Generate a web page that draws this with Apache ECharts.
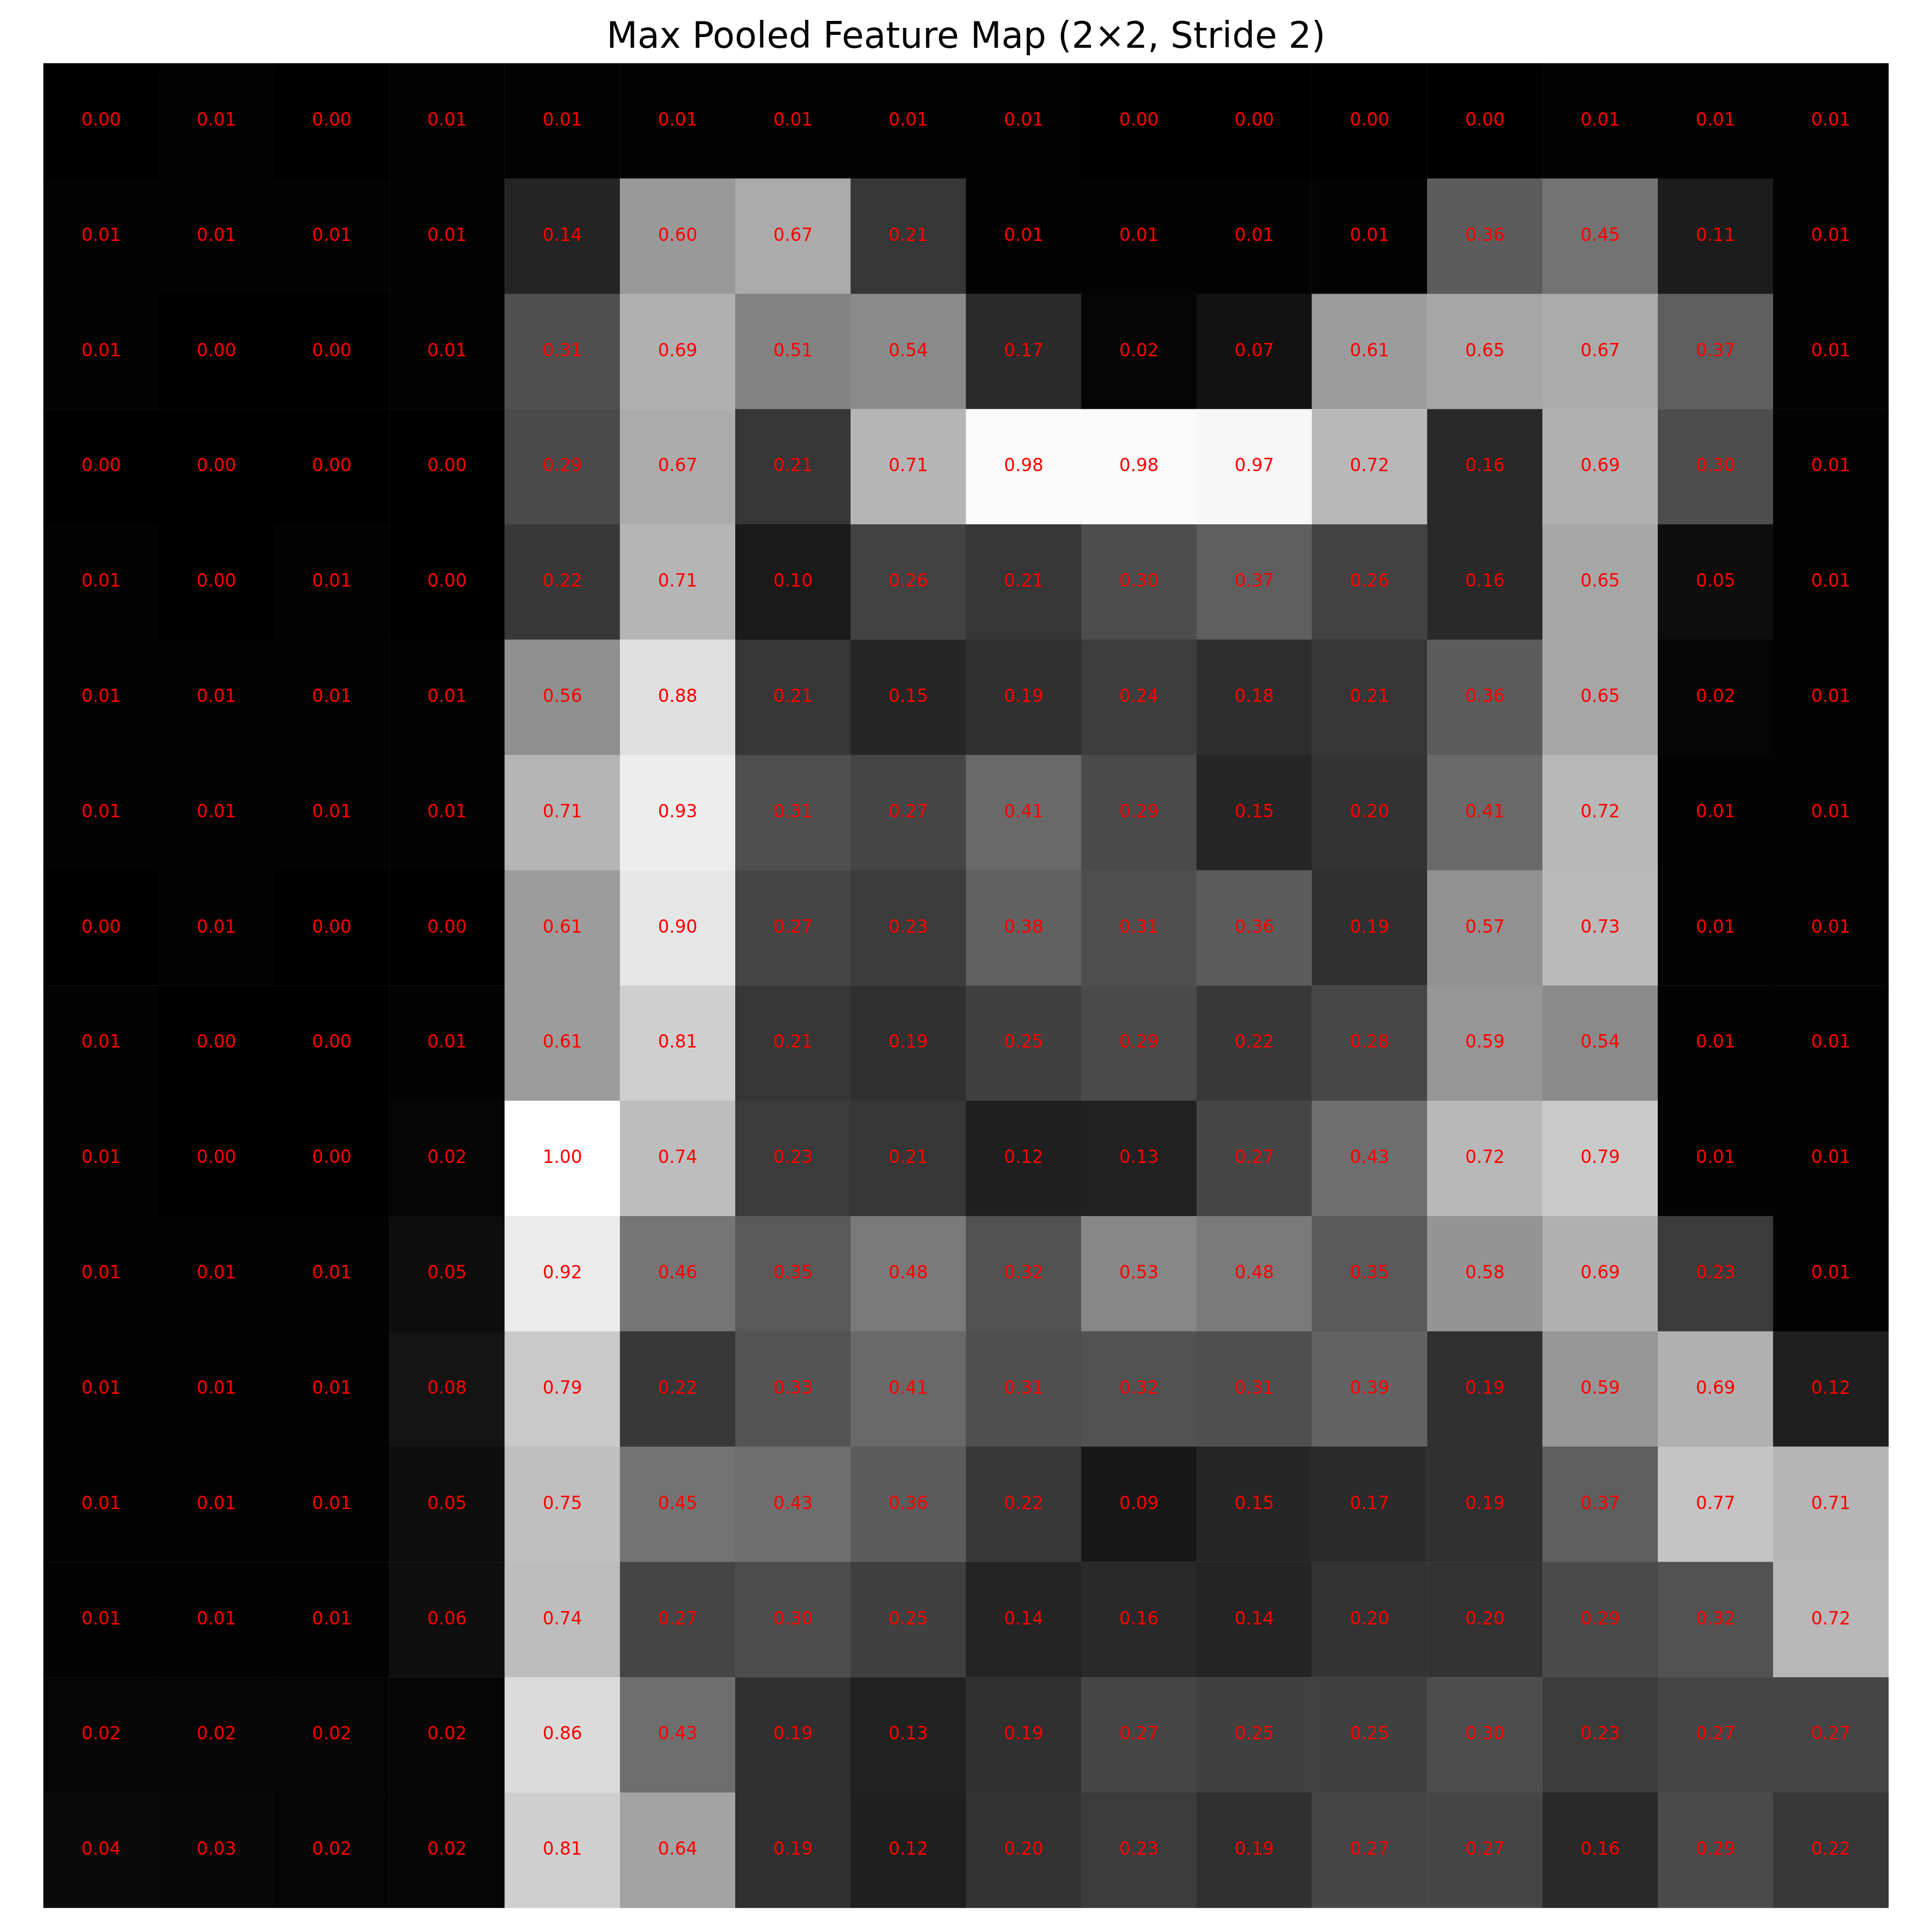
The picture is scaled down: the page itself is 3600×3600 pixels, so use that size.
<!DOCTYPE html>
<html>
<head>
<meta charset="utf-8">
<script src="https://cdn.jsdelivr.net/npm/echarts@6/dist/echarts.min.js"></script>
<style>html,body{margin:0;padding:0;background:#fff;}#chart{width:3600px;height:3600px;}</style>
</head>
<body>
<div id="chart"></div>
<script>
const titleText = "Max Pooled Feature Map (2\u00d72, Stride 2)";
const colLabels = ["0","1","2","3","4","5","6","7","8","9","10","11","12","13","14","15"];
const rowLabels = ["0","1","2","3","4","5","6","7","8","9","10","11","12","13","14","15"];
const row0  = [0.00,0.01,0.00,0.01,0.01,0.01,0.01,0.01,0.01,0.00,0.00,0.00,0.00,0.01,0.01,0.01];
const row1  = [0.01,0.01,0.01,0.01,0.14,0.60,0.67,0.21,0.01,0.01,0.01,0.01,0.36,0.45,0.11,0.01];
const row2  = [0.01,0.00,0.00,0.01,0.31,0.69,0.51,0.54,0.17,0.02,0.07,0.61,0.65,0.67,0.37,0.01];
const row3  = [0.00,0.00,0.00,0.00,0.29,0.67,0.21,0.71,0.98,0.98,0.97,0.72,0.16,0.69,0.30,0.01];
const row4  = [0.01,0.00,0.01,0.00,0.22,0.71,0.10,0.26,0.21,0.30,0.37,0.26,0.16,0.65,0.05,0.01];
const row5  = [0.01,0.01,0.01,0.01,0.56,0.88,0.21,0.15,0.19,0.24,0.18,0.21,0.36,0.65,0.02,0.01];
const row6  = [0.01,0.01,0.01,0.01,0.71,0.93,0.31,0.27,0.41,0.29,0.15,0.20,0.41,0.72,0.01,0.01];
const row7  = [0.00,0.01,0.00,0.00,0.61,0.90,0.27,0.23,0.38,0.31,0.36,0.19,0.57,0.73,0.01,0.01];
const row8  = [0.01,0.00,0.00,0.01,0.61,0.81,0.21,0.19,0.25,0.29,0.22,0.28,0.59,0.54,0.01,0.01];
const row9  = [0.01,0.00,0.00,0.02,1.00,0.74,0.23,0.21,0.12,0.13,0.27,0.43,0.72,0.79,0.01,0.01];
const row10 = [0.01,0.01,0.01,0.05,0.92,0.46,0.35,0.48,0.32,0.53,0.48,0.35,0.58,0.69,0.23,0.01];
const row11 = [0.01,0.01,0.01,0.08,0.79,0.22,0.33,0.41,0.31,0.32,0.31,0.39,0.19,0.59,0.69,0.12];
const row12 = [0.01,0.01,0.01,0.05,0.75,0.45,0.43,0.36,0.22,0.09,0.15,0.17,0.19,0.37,0.77,0.71];
const row13 = [0.01,0.01,0.01,0.06,0.74,0.27,0.30,0.25,0.14,0.16,0.14,0.20,0.20,0.29,0.32,0.72];
const row14 = [0.02,0.02,0.02,0.02,0.86,0.43,0.19,0.13,0.19,0.27,0.25,0.25,0.30,0.23,0.27,0.27];
const row15 = [0.04,0.03,0.02,0.02,0.81,0.64,0.19,0.12,0.20,0.23,0.19,0.27,0.27,0.16,0.29,0.22];
const rows = [row0,row1,row2,row3,row4,row5,row6,row7,row8,row9,row10,row11,row12,row13,row14,row15];

const data = [];
rows.forEach((r, y) => r.forEach((v, x) => data.push([x, y, v])));

const chart = echarts.init(document.getElementById('chart'), null, {renderer: 'canvas'});
chart.setOption({
  backgroundColor: '#ffffff',
  animation: false,
  title: {
    text: titleText,
    left: 'center',
    top: 38,
    padding: 0,
    textStyle: {fontFamily: 'DejaVu Sans', fontSize: 67, fontWeight: 'normal', color: '#000000'}
  },
  grid: {left: 81, top: 118, width: 3438, height: 3437, containLabel: false},
  xAxis: {type: 'category', data: colLabels, show: false, splitArea: {show: false}},
  yAxis: {type: 'category', data: rowLabels, inverse: true, show: false, splitArea: {show: false}},
  visualMap: {show: false, type: 'continuous', min: 0, max: 1, dimension: 2, inRange: {color: ['#000000', '#ffffff']}},
  series: [{
    type: 'heatmap',
    data: data,
    itemStyle: {borderWidth: 0},
    label: {
      show: true,
      color: '#ff0000',
      fontFamily: 'DejaVu Sans',
      fontSize: 33,
      formatter: p => p.value[2].toFixed(2)
    },
    emphasis: {disabled: true}
  }]
});
</script>
</body>
</html>
